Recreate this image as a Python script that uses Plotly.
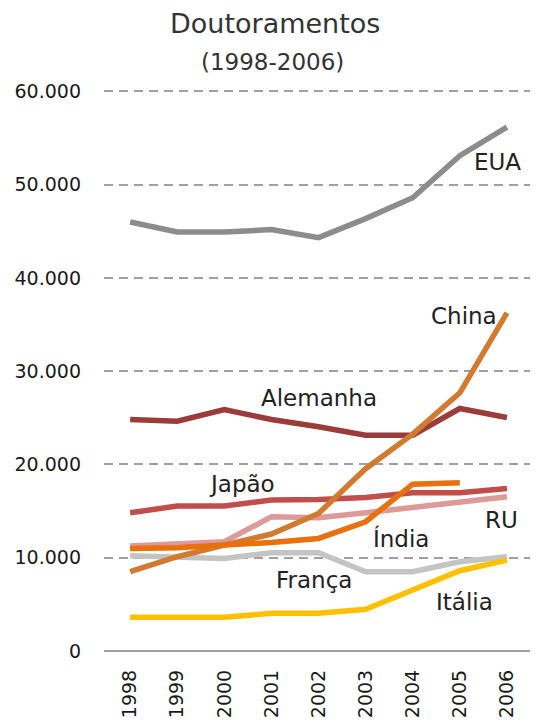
import plotly.graph_objects as go

YEARS = [1998, 1999, 2000, 2001, 2002, 2003, 2004, 2005, 2006]

EUA = [46000, 44930, 44930, 45180, 44320, 46360, 48600, 53100, 56180]
ALEMANHA = [24820, 24640, 25890, 24820, 24040, 23140, 23140, 26000, 25040]
JAPAO = [14820, 15540, 15540, 16180, 16250, 16460, 16960, 16960, 17430]
RU = [11250, 11500, 11710, 14390, 14300, 14820, 15360, 15890, 16530]
INDIA = [10990, 11070, 11360, 11640, 12070, 13860, 17890, 18040, None]
CHINA = [8500, 10110, 11360, 12540, 14750, 19550, 23250, 27680, 36250]
FRANCA = [10210, 10110, 9930, 10540, 10540, 8500, 8500, 9570, 10110]
ITALIA = [3610, 3610, 3610, 4040, 4040, 4470, 6540, 8610, 9750]

SERIES = [
    ("EUA", EUA, "#8c8c8c"),
    ("Alemanha", ALEMANHA, "#9b3b3a"),
    ("França", FRANCA, "#c4c4c4"),
    ("Itália", ITALIA, "#ffc000"),
    ("RU", RU, "#dc9a98"),
    ("Japão", JAPAO, "#c24e4b"),
    ("China", CHINA, "#d27b30"),
    ("Índia", INDIA, "#e8700d"),
]

# label anchor points (year, value)
LABELS = {
    "EUA": (2005.79, 52390),
    "China": (2005.08, 35890),
    "Alemanha": (2002.01, 27110),
    "Japão": (2000.37, 17890),
    "RU": (2005.89, 14040),
    "Índia": (2003.76, 12110),
    "França": (2001.9, 7610),
    "Itália": (2005.1, 5250),
}

FONT = "DejaVu Sans"

fig = go.Figure()
for name, vals, color in SERIES:
    fig.add_trace(go.Scatter(
        x=YEARS, y=vals, mode="lines", name=name,
        line=dict(color=color, width=5.5), connectgaps=False,
    ))

for name, (x, y) in LABELS.items():
    fig.add_annotation(x=x, y=y, text=name, showarrow=False,
                       xanchor="center", yanchor="middle",
                       font=dict(family=FONT, size=23, color="#222222"))

fig.add_annotation(xref="paper", yref="paper", x=0.394, y=1.118, text="Doutoramentos",
                   showarrow=False, xanchor="center", yanchor="middle",
                   font=dict(family=FONT, size=27, color="#333333"))
fig.add_annotation(xref="paper", yref="paper", x=0.388, y=1.05, text="(1998-2006)",
                   showarrow=False, xanchor="center", yanchor="middle",
                   font=dict(family=FONT, size=23, color="#333333"))

fig.update_layout(
    width=530, height=720,
    margin=dict(l=96, r=0, t=82, b=77),
    paper_bgcolor="#ffffff", plot_bgcolor="#ffffff",
    font=dict(family=FONT, color="#1a1a1a"),
    showlegend=False,
    separators=",.",
)
fig.update_xaxes(
    range=[1997.445, 2006.66], tickvals=YEARS, ticktext=[str(y) for y in YEARS],
    tickangle=-90, tickfont=dict(size=19), showgrid=False, zeroline=False,
    showline=False, ticks="", ticklabelstandoff=14,
)
fig.update_yaxes(
    range=[0, 60150], dtick=10000, tickformat=",d", tickfont=dict(size=19),
    showgrid=True, gridcolor="#a0a0a0", gridwidth=2, griddash="9px,6px",
    zeroline=True, zerolinecolor="#a0a0a0", zerolinewidth=2,
    ticks="", ticklabelstandoff=22,
)

fig.write_html("out.html")
